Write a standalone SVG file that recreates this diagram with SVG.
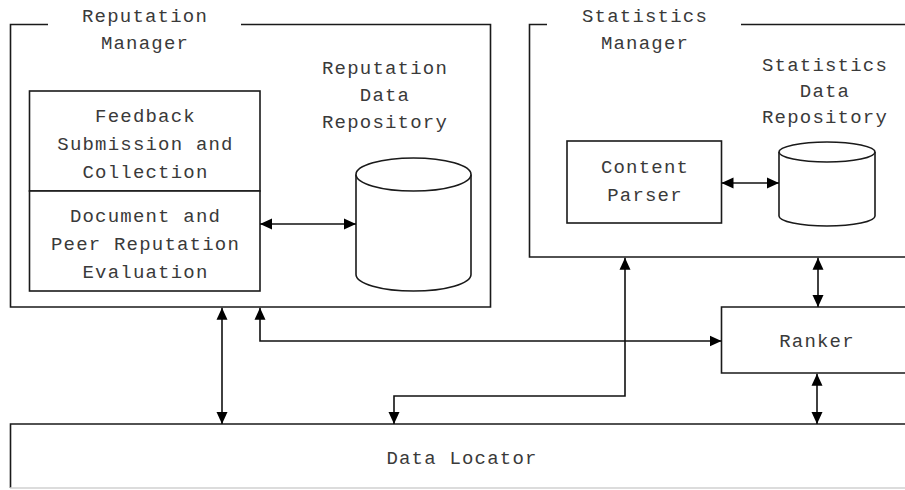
<svg xmlns="http://www.w3.org/2000/svg" width="905" height="490" viewBox="0 0 905 490">
  <style>
    .frame { fill: none; stroke: #1a1a1a; stroke-width: 1.6; }
    .box { fill: #fff; stroke: #1a1a1a; stroke-width: 1.6; }
    .lbl { font-family: "Liberation Mono", "Courier New", monospace; font-size: 19px; letter-spacing: 1.2px; fill: #3a3a3a; text-anchor: middle; }
    .wire { fill: none; stroke: #111; stroke-width: 1.6; marker-start: url(#head); marker-end: url(#head); }
  </style>
  <defs>
    <marker id="head" viewBox="0 0 12 12" refX="12" refY="6" markerWidth="12" markerHeight="12" markerUnits="userSpaceOnUse" orient="auto-start-reverse">
      <path d="M0,0.5 L12,6 L0,11.5 z" fill="#000"/>
    </marker>
  </defs>
  <rect width="905" height="490" fill="#fff"/>

  <!-- Reputation Manager frame with title break in the top edge -->
  <g id="reputation-manager">
    <path class="frame" d="M48,24.5 H10.5 V307 H490.5 V24.5 H241"/>
    <text class="lbl" x="145" y="22">Reputation</text>
    <text class="lbl" x="145" y="49">Manager</text>
    <text class="lbl" x="385" y="74">Reputation</text>
    <text class="lbl" x="385" y="101">Data</text>
    <text class="lbl" x="385" y="128">Repository</text>
  </g>

  <g id="feedback">
    <rect class="box" x="29.5" y="91" width="230.5" height="100"/>
    <text class="lbl" x="145.5" y="122">Feedback</text>
    <text class="lbl" x="145.5" y="150">Submission and</text>
    <text class="lbl" x="145.5" y="178">Collection</text>
  </g>

  <g id="evaluation">
    <rect class="box" x="29.5" y="191" width="230.5" height="100"/>
    <text class="lbl" x="145.5" y="222">Document and</text>
    <text class="lbl" x="145.5" y="250">Peer Reputation</text>
    <text class="lbl" x="145.5" y="278">Evaluation</text>
  </g>

  <g id="reputation-repository">
    <path class="box" d="M356,174.5 V274.5 A57.5,16.5 0 0 0 471,274.5 V174.5"/>
    <ellipse class="box" cx="413.5" cy="174.5" rx="57.5" ry="16.5"/>
  </g>

  <!-- Statistics Manager frame, open past the right edge -->
  <g id="statistics-manager">
    <path class="frame" d="M547,24.5 H529.5 V257 H910 M741,24.5 H910"/>
    <text class="lbl" x="645" y="22">Statistics</text>
    <text class="lbl" x="645" y="49">Manager</text>
    <text class="lbl" x="825" y="71">Statistics</text>
    <text class="lbl" x="825" y="97">Data</text>
    <text class="lbl" x="825" y="123">Repository</text>
  </g>

  <g id="content-parser">
    <rect class="box" x="567" y="141" width="154.5" height="82"/>
    <text class="lbl" x="645" y="173">Content</text>
    <text class="lbl" x="645" y="201">Parser</text>
  </g>

  <g id="statistics-repository">
    <path class="box" d="M779,152 V216 A48,10 0 0 0 875,216 V152"/>
    <ellipse class="box" cx="827" cy="152" rx="48" ry="10"/>
  </g>

  <g id="ranker">
    <path class="box" d="M910,307 H721.5 V373 H910"/>
    <text class="lbl" x="817" y="347">Ranker</text>
  </g>

  <g id="data-locator">
    <path class="frame" d="M910,424 H10.5 V488"/>
    <line x1="10" y1="488" x2="905" y2="488" stroke="#d0d0d0" stroke-width="1.5"/>
    <text class="lbl" x="462" y="464">Data Locator</text>
  </g>

  <g id="connectors">
    <path class="wire" d="M260,224 H356"/>
    <path class="wire" d="M721.5,183 H779"/>
    <path class="wire" d="M222,307.8 V424"/>
    <path class="wire" d="M260,307.8 V341 H721.5"/>
    <path class="wire" d="M625,257.8 V396 H394 V424"/>
    <path class="wire" d="M818,257.8 V307"/>
    <path class="wire" d="M817,373.8 V424"/>
  </g>
</svg>
